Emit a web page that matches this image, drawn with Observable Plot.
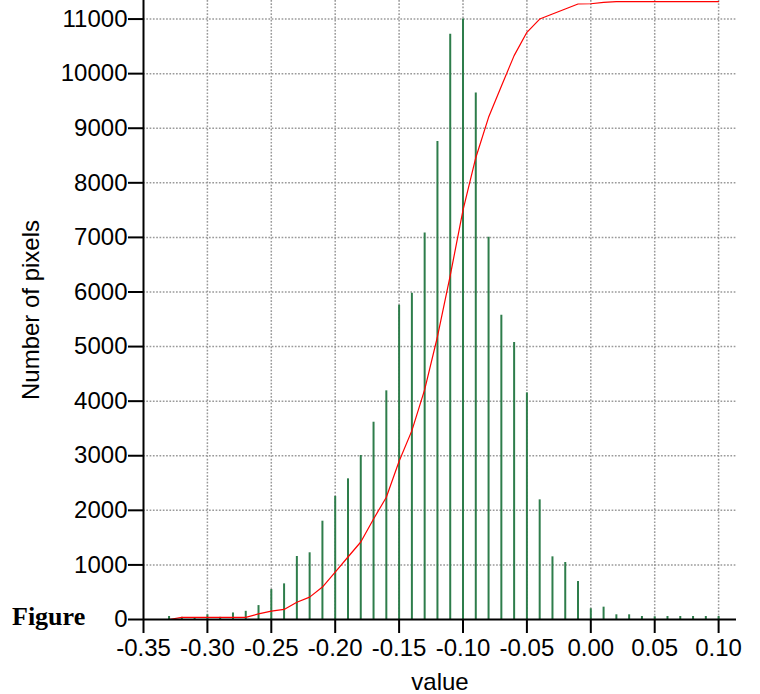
<!DOCTYPE html>
<html>
<head>
<meta charset="utf-8">
<script src="https://cdn.jsdelivr.net/npm/d3@7"></script>
<script src="https://cdn.jsdelivr.net/npm/@observablehq/plot@0.6"></script>
<style>
  body { margin: 0; background: #fff; }
  #chart { position: relative; width: 760px; height: 694px; }
</style>
</head>
<body>
<div id="chart"></div>
<script>
// Histogram bin centres (value)
const bins = [-0.33, -0.32, -0.31, -0.30, -0.29, -0.28, -0.27, -0.26, -0.25, -0.24,
              -0.23, -0.22, -0.21, -0.20, -0.19, -0.18, -0.17, -0.16, -0.15, -0.14,
              -0.13, -0.12, -0.11, -0.10, -0.09, -0.08, -0.07, -0.06, -0.05, -0.04,
              -0.03, -0.02, -0.01, 0.00, 0.01, 0.02, 0.03, 0.04, 0.05, 0.06,
              0.07, 0.08, 0.09, 0.10];
// Number of pixels per bin (green bars)
const counts = [55, 40, 30, 85, 40, 120, 150, 255, 549, 653,
                1154, 1222, 1801, 2253, 2577, 3004, 3614, 4189, 5757, 5977,
                7082, 8755, 10720, 11000, 9646, 7002, 5573, 5073, 4152, 2192,
                1148, 1044, 696, 196, 226, 86, 86, 55, 50, 55,
                55, 55, 55, 55];
// Cumulative curve (red line)
const cumulative = [0, 40, 40, 40, 40, 40, 40, 104, 152, 185,
                    317, 410, 595, 866, 1145, 1420, 1840, 2240, 2900, 3460,
                    4210, 5180, 6300, 7500, 8460, 9200, 9770, 10330, 10757, 11000,
                    11092, 11184, 11276, 11280, 11305, 11320, 11320, 11320, 11320, 11320,
                    11320, 11320, 11320, 11320];
// Axis ticks
const xTicks = [-0.35, -0.30, -0.25, -0.20, -0.15, -0.10, -0.05, 0.00, 0.05, 0.10];
const yTicks = [0, 1000, 2000, 3000, 4000, 5000, 6000, 7000, 8000, 9000, 10000, 11000];

const data = bins.map((v, i) => ({v, count: counts[i], cum: cumulative[i]}));

const gridStyle = {stroke: "#9a9a9a", strokeOpacity: 1, strokeWidth: 1.5, strokeDasharray: "1.7,1.6"};

const plot = Plot.plot({
  width: 760,
  height: 694,
  marginLeft: 143,
  marginRight: 24,
  marginTop: 0,
  marginBottom: 75,
  style: {fontFamily: "'Liberation Sans', Arial, sans-serif", fontSize: "24px", color: "#000", background: "#fff", overflow: "visible"},
  x: {domain: [-0.35, 0.114]},
  y: {domain: [0, 11340]},
  marks: [
    Plot.gridX({...gridStyle, ticks: xTicks.slice(1)}),
    Plot.gridY({...gridStyle, ticks: yTicks.slice(1)}),
    Plot.ruleX(data, {x: "v", y1: 0, y2: "count", stroke: "#2e7d4b", strokeWidth: 2}),
    Plot.line(data, {x: "v", y: "cum", stroke: "#ff0000", strokeWidth: 1.2}),
    Plot.ruleY([0], {stroke: "#000", strokeWidth: 2}),
    Plot.ruleX([-0.35], {stroke: "#000", strokeWidth: 2}),
    Plot.axisX({ticks: xTicks, tickSize: 14, tickPadding: 5, strokeWidth: 2,
      tickFormat: d => d.toFixed(2), label: "value", labelAnchor: "center", labelOffset: 70, labelArrow: "none"}),
    Plot.axisY({ticks: yTicks, tickSize: 15, tickPadding: 1, strokeWidth: 2,
      tickFormat: d => String(d), label: "Number of pixels", labelAnchor: "center", labelOffset: 122, labelArrow: "none"})
  ]
});

d3.select(plot).append("text")
  .attr("x", 12).attr("y", 625)
  .attr("text-anchor", "start")
  .attr("font-family", "'Liberation Serif', 'Times New Roman', serif")
  .attr("font-weight", "bold")
  .attr("font-size", "26px")
  .attr("fill", "#000")
  .text("Figure");

document.getElementById("chart").appendChild(plot);
</script>
</body>
</html>
